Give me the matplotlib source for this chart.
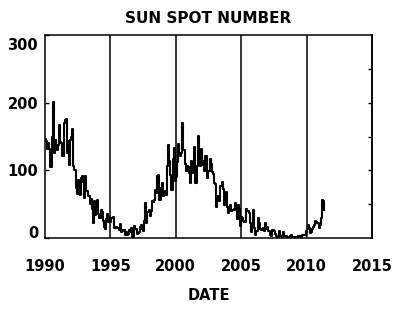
import numpy as np
import matplotlib
matplotlib.use("Agg")
import matplotlib.pyplot as plt
from matplotlib.transforms import ScaledTranslation

# Monthly sunspot numbers, Jan 1990 .. May 2011
start_year = 1990
ssn = [
    # 1990
    146.5, 143.1, 131.4, 140.3, 132.2, 105.4, 149.4, 200.3, 125.2, 145.5, 131.4, 129.7,
    # 1991
    136.9, 167.5, 141.9, 140.0, 121.3, 169.7, 173.7, 176.3, 125.3, 144.1, 108.2, 144.4,
    # 1992
    150.0, 161.1, 106.7, 99.8, 73.8, 65.2, 85.7, 64.5, 63.9, 88.7, 91.8, 82.6,
    # 1993
    59.3, 91.0, 69.8, 62.2, 61.3, 49.8, 57.9, 42.4, 21.4, 54.5, 33.9, 51.7,
    # 1994
    56.5, 35.2, 29.0, 41.0, 38.0, 25.5, 16.0, 12.5, 27.5, 36.0, 24.0, 31.0,
    # 1995
    24.2, 29.9, 31.1, 14.0, 14.5, 15.6, 14.5, 14.3, 11.8, 21.1, 9.0, 10.0,
    # 1996
    11.5, 4.4, 9.2, 4.8, 5.5, 11.8, 8.2, 14.4, 1.6, 0.9, 17.9, 13.3,
    # 1997
    5.7, 7.6, 8.7, 15.5, 18.5, 12.7, 10.4, 24.4, 51.3, 22.8, 39.0, 41.2,
    # 1998
    31.9, 40.3, 54.8, 53.4, 56.3, 70.7, 66.6, 92.2, 92.9, 55.5, 74.0, 81.9,
    # 1999
    62.0, 66.3, 68.8, 63.7, 106.4, 137.7, 113.5, 93.7, 71.5, 116.7, 133.2, 84.6,
    # 2000
    90.1, 112.9, 138.5, 125.5, 121.6, 124.9, 170.1, 130.5, 109.7, 99.4, 106.8, 104.4,
    # 2001
    95.6, 80.6, 113.5, 107.7, 96.6, 134.0, 81.8, 106.4, 150.7, 125.5, 106.5, 132.2,
    # 2002
    114.1, 107.4, 98.4, 120.7, 120.8, 88.3, 99.6, 116.4, 109.6, 97.5, 95.0, 81.6,
    # 2003
    79.5, 46.2, 61.5, 60.0, 55.2, 77.4, 83.3, 72.7, 48.7, 65.5, 67.3, 46.5,
    # 2004
    37.3, 45.8, 49.1, 39.3, 41.5, 43.2, 51.1, 40.9, 27.7, 48.0, 43.5, 17.9,
    # 2005
    31.3, 29.2, 24.5, 24.2, 42.7, 39.3, 40.1, 36.4, 22.1, 8.5, 18.0, 41.2,
    # 2006
    15.3, 4.9, 10.6, 30.2, 22.3, 13.9, 12.2, 12.9, 14.4, 10.5, 21.4, 13.6,
    # 2007
    16.8, 10.7, 4.5, 3.4, 11.7, 12.1, 9.7, 6.0, 2.4, 0.9, 1.7, 10.1,
    # 2008
    3.3, 2.1, 9.3, 2.9, 2.9, 3.1, 0.5, 0.5, 1.1, 2.9, 4.1, 0.8,
    # 2009
    1.5, 1.4, 0.7, 1.2, 2.9, 2.6, 3.5, 0.0, 4.2, 4.6, 4.2, 10.6,
    # 2010
    13.1, 18.6, 15.4, 7.9, 8.8, 13.5, 16.1, 19.6, 25.2, 23.5, 21.6, 14.5,
    # 2011
    19.0, 29.4, 56.2, 54.4, 41.6,
]
months = np.arange(len(ssn))
dates = start_year + months / 12.0

x_ticks = [1990, 1995, 2000, 2005, 2010, 2015]
x_grid = [1995, 2000, 2005, 2010]
y_ticks = [0, 100, 200, 300]

plt.rcParams['font.family'] = ['DejaVu Sans']
fig = plt.figure(figsize=(4.0, 3.16), dpi=100)
ax = fig.add_axes([0.1125, 0.247, 0.8175, 0.642])

ax.step(dates, ssn, where='post', color='black', lw=1.5)
for g in x_grid:
    ax.axvline(g, color='black', lw=1.1)

ax.set_xlim(1990, 2015)
ax.set_ylim(0, 300)
ax.set_xticks(x_ticks)
ax.set_xticklabels([str(t) for t in x_ticks], fontsize=10.5, fontweight='bold')
ax.set_yticks(y_ticks)
ax.set_yticklabels([str(t) for t in y_ticks], fontsize=10.5, fontweight='bold')
ax.tick_params(axis='x', length=0, pad=15)
ax.tick_params(axis='y', direction='in', length=3, width=1, pad=5,
               right=False)
labs = ax.get_yticklabels()
labs[0].set_transform(labs[0].get_transform() + ScaledTranslation(0, 0.06, fig.dpi_scale_trans))
labs[-1].set_transform(labs[-1].get_transform() + ScaledTranslation(0, -0.09, fig.dpi_scale_trans))

sec = ax.secondary_yaxis('right')
sec.set_yticks([50, 100, 150, 200, 250])
sec.tick_params(direction='in', length=3, width=1, labelright=False)
sec.spines['right'].set_linewidth(1.1)

for s in ax.spines.values():
    s.set_linewidth(1.1)

ax.set_title('SUN SPOT NUMBER', fontsize=11, fontweight='bold', pad=9)
ax.set_xlabel('DATE', fontsize=10.5, fontweight='bold', labelpad=10)

fig.savefig('out.png', dpi=100)
